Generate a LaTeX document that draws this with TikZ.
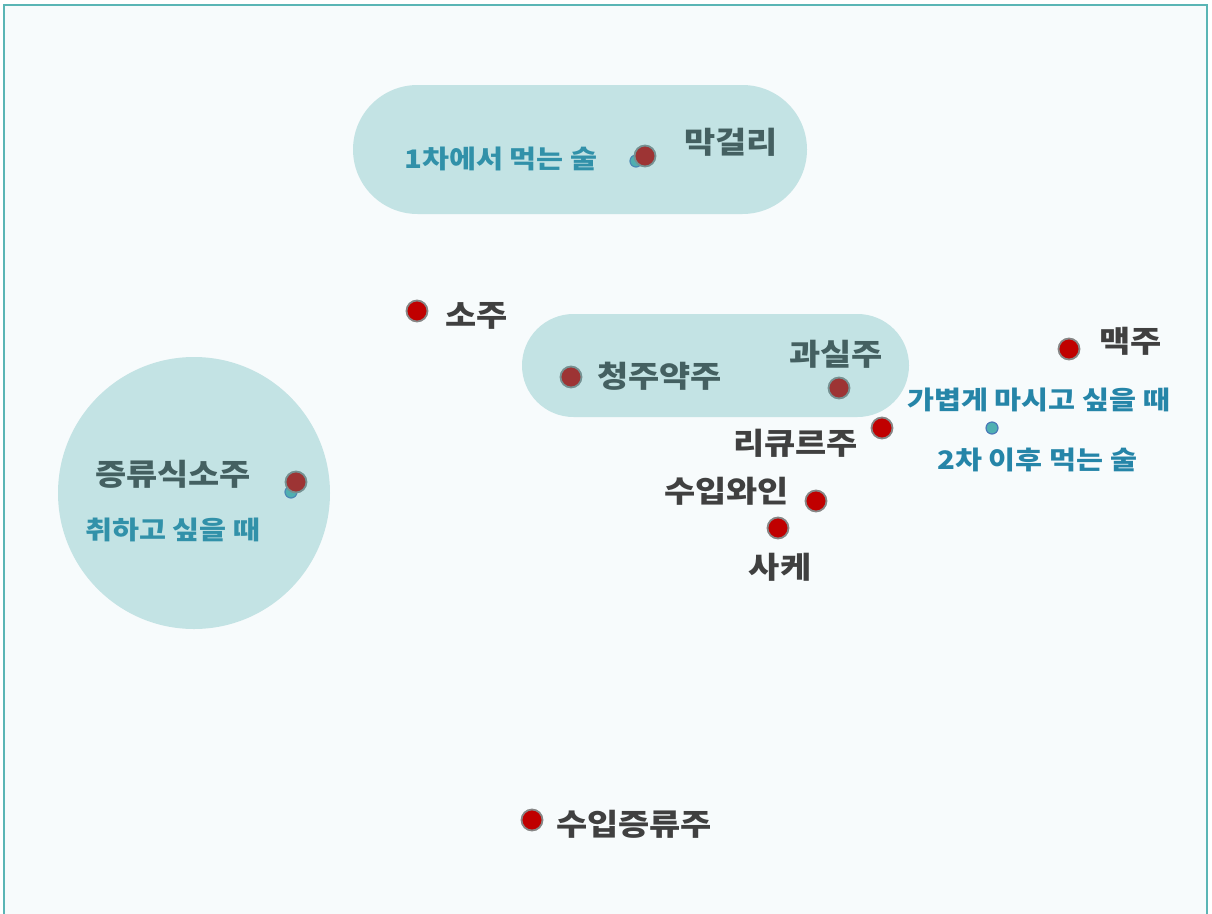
\documentclass[tikz,border=0pt]{standalone}
\usepackage{fontspec}
\newfontfamily\krd{Noto Sans CJK KR}[FakeStretch=1.13]
\newfontfamily\krb{Noto Sans CJK KR}[FakeStretch=1.15]
\definecolor{bgc}{HTML}{F7FBFC}
\definecolor{framec}{HTML}{5AB5B5}
\definecolor{regc}{HTML}{4EADAE}
\definecolor{txtc}{HTML}{404040}
\definecolor{bluec}{HTML}{2585A8}
\definecolor{redc}{HTML}{C00000}
\definecolor{tealc}{HTML}{50B0B2}
\definecolor{tealedge}{HTML}{4A7AB8}
\tikzset{
  lbl/.style={inner sep=0pt, text=txtc, font=\krd\bfseries\fontsize{30}{32}\selectfont},
  sublbl/.style={inner sep=0pt, text=bluec, font=\krb\bfseries\fontsize{25.5}{28}\selectfont},
  reddot/.style={circle, fill=redc, draw=gray!95, line width=1.8pt, minimum size=21pt, inner sep=0pt},
  tealdot/.style={circle, fill=tealc, draw=tealedge, line width=1.2pt, minimum size=12pt, inner sep=0pt},
  region/.style={fill=regc, fill opacity=0.3, draw=none}
}
\begin{document}
\begin{tikzpicture}[x=1pt,y=-1pt]
\useasboundingbox (0,0) rectangle (1212,913);
\fill[white] (0,0) rectangle (1212,913);
\fill[bgc] (4,5) rectangle (1207,930);
\draw[framec, line width=2pt] (4,930) -- (4,5) -- (1207,5) -- (1207,930);

% labels
\node[lbl, anchor=west] (lmak) at (684,142) {막걸리};
\node[lbl, anchor=west] (lsoju) at (445,316) {소주};
\node[lbl, anchor=west] (lcheong) at (597,376) {청주약주};
\node[lbl, anchor=west] (lgwa) at (789,354) {과실주};
\node[lbl, anchor=west] (lmaek) at (1099,341) {맥주};
\node[lbl, anchor=east] (lliq) at (858,443) {리큐르주};
\node[lbl, anchor=east] (lwine) at (789,491) {수입와인};
\node[lbl] (lsake) at (780,567) {사케};
\node[lbl, anchor=west] (limp) at (556,824) {수입증류주};
\node[lbl, anchor=west] (ljeung) at (95,474) {증류식소주};

\node[sublbl, anchor=west] (s1) at (404,159) {1차에서 먹는 술};
\node[sublbl, anchor=west] (s2) at (85,530) {취하고 싶을 때};
\node[sublbl, anchor=west] (s3) at (907,400) {가볍게 마시고 싶을 때};
\node[sublbl, anchor=west] (s4) at (937,460) {2차 이후 먹는 술};

% teal dots
\node[tealdot] (t1) at (636,161) {};
\node[tealdot] (t2) at (291,492) {};
\node[tealdot] (t3) at (992,428) {};

% red dots
\node[reddot] (dmak) at (645,156) {};
\node[reddot] (dsoju) at (417,311) {};
\node[reddot] (dcheong) at (571,377) {};
\node[reddot] (dgwa) at (839,388) {};
\node[reddot] (dmaek) at (1069,349) {};
\node[reddot] (dliq) at (882,428) {};
\node[reddot] (dwine) at (816,501) {};
\node[reddot] (dsake) at (778,528) {};
\node[reddot] (dimp) at (532,820) {};
\node[reddot] (djeung) at (296,482) {};

% regions
\fill[region, rounded corners=64.5pt] (353,85) rectangle (807,214);
\fill[region, rounded corners=51.5pt] (522,314) rectangle (909,417);
\fill[region] (194,493) circle (136);
\end{tikzpicture}
\end{document}
